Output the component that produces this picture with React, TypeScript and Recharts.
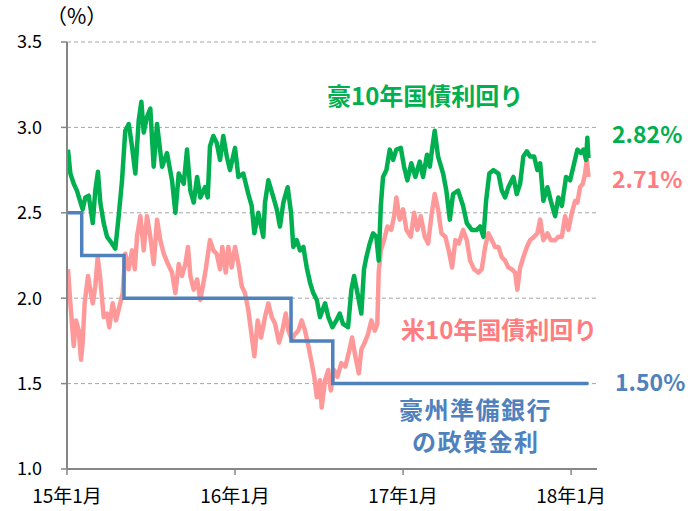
import React from "react";
import { LineChart, Line, XAxis, YAxis, CartesianGrid } from "recharts";

// months since Jan 2015
const auMonths = [0.07,0.24,0.48,0.71,0.93,1.12,1.31,1.55,1.84,2.02,2.21,2.38,2.62,2.86,3.21,3.45,3.69,3.93,4.16,4.41,4.64,4.88,5.12,5.31,5.48,5.71,5.95,6.19,6.43,6.79,7.14,7.5,7.74,7.98,8.34,8.57,8.81,9.05,9.29,9.52,9.86,10.05,10.21,10.45,10.69,10.93,11.16,11.41,11.64,12.0,12.24,12.59,12.95,13.19,13.38,13.66,14.02,14.14,14.38,14.74,14.98,15.21,15.45,15.76,16.0,16.16,16.41,16.64,16.88,17.12,17.36,17.59,17.84,18.07,18.43,18.66,18.95,19.24,19.48,19.71,20.07,20.31,20.5,20.79,21.02,21.21,21.38,21.62,21.86,22.09,22.26,22.41,22.57,22.81,23.05,23.29,23.52,23.84,24.07,24.31,24.59,24.88,25.19,25.43,25.71,25.91,26.07,26.26,26.5,26.86,27.09,27.34,27.57,27.93,28.29,28.55,28.91,29.26,29.5,29.74,29.93,30.16,30.45,30.81,31.05,31.29,31.52,31.88,32.12,32.36,32.59,32.84,33.07,33.36,33.59,33.79,34.02,34.31,34.55,34.86,35.09,35.34,35.64,35.93,36.16,36.45,36.69,36.88,37.07,37.16,37.24];
const auYield = [2.87,2.73,2.67,2.63,2.57,2.52,2.59,2.60,2.44,2.63,2.74,2.56,2.44,2.36,2.32,2.29,2.48,2.69,2.98,3.02,2.89,2.73,3.04,3.15,2.97,3.06,3.11,2.77,3.02,2.77,2.85,2.69,2.50,2.73,2.67,2.87,2.63,2.56,2.71,2.59,2.65,2.59,2.89,2.95,2.91,2.81,2.95,2.83,2.75,2.88,2.71,2.73,2.61,2.54,2.38,2.50,2.36,2.56,2.69,2.59,2.52,2.42,2.56,2.65,2.50,2.30,2.34,2.28,2.30,2.18,2.09,2.03,1.99,1.89,1.97,1.89,1.83,1.87,1.91,1.85,1.83,2.05,2.13,2.01,1.91,2.17,2.24,2.32,2.38,2.36,2.22,2.54,2.71,2.75,2.87,2.81,2.87,2.88,2.77,2.69,2.79,2.71,2.80,2.71,2.84,2.77,2.87,2.98,2.83,2.73,2.63,2.46,2.61,2.63,2.54,2.44,2.40,2.40,2.42,2.36,2.57,2.73,2.75,2.73,2.63,2.59,2.65,2.71,2.61,2.67,2.83,2.86,2.83,2.83,2.75,2.79,2.57,2.65,2.57,2.48,2.59,2.54,2.71,2.69,2.77,2.87,2.85,2.87,2.81,2.94,2.82];

const usMonths = [0.07,0.24,0.48,0.64,0.84,1.0,1.12,1.26,1.5,1.66,1.84,2.02,2.19,2.38,2.62,2.86,3.02,3.26,3.5,3.74,3.98,4.16,4.41,4.64,4.84,5.0,5.24,5.48,5.71,5.95,6.19,6.43,6.66,6.91,7.21,7.5,7.74,7.98,8.21,8.45,8.64,8.81,9.05,9.29,9.52,9.66,9.91,10.21,10.45,10.69,10.93,11.09,11.34,11.52,11.76,12.0,12.24,12.48,12.71,12.95,13.14,13.38,13.62,13.86,14.14,14.38,14.62,14.86,15.14,15.38,15.62,15.81,16.05,16.29,16.52,16.76,17.0,17.24,17.48,17.66,17.84,18.07,18.19,18.43,18.66,18.84,19.07,19.31,19.59,19.88,20.12,20.36,20.59,20.84,21.02,21.26,21.5,21.74,21.98,22.16,22.26,22.41,22.64,22.88,23.16,23.36,23.52,23.76,24.0,24.24,24.55,24.79,25.02,25.26,25.55,25.79,26.02,26.26,26.5,26.74,27.02,27.26,27.5,27.74,27.98,28.29,28.55,28.79,29.07,29.38,29.62,29.86,30.09,30.34,30.57,30.81,31.05,31.29,31.52,31.76,32.0,32.16,32.36,32.59,32.84,33.07,33.36,33.59,33.79,34.02,34.31,34.55,34.86,35.09,35.34,35.57,35.81,36.05,36.29,36.45,36.64,36.84,37.0,37.12,37.24];
const usYield = [2.17,1.97,1.72,1.87,1.81,1.64,1.74,1.97,2.13,2.05,1.97,2.07,2.24,2.11,1.89,1.91,1.83,1.97,1.87,1.95,2.03,2.26,2.17,2.28,2.17,2.36,2.48,2.28,2.48,2.36,2.20,2.46,2.34,2.26,2.20,2.15,2.03,2.20,2.13,2.20,2.30,2.13,2.05,2.11,1.99,2.05,2.17,2.34,2.28,2.26,2.17,2.30,2.15,2.30,2.18,2.30,2.20,2.07,2.03,1.93,1.81,1.66,1.87,1.77,1.89,1.97,1.89,1.85,1.74,1.81,1.91,1.81,1.76,1.79,1.81,1.87,1.81,1.72,1.62,1.54,1.42,1.52,1.36,1.52,1.58,1.46,1.58,1.54,1.62,1.60,1.68,1.77,1.66,1.56,1.70,1.74,1.79,1.87,1.81,1.85,2.15,2.28,2.34,2.42,2.40,2.48,2.59,2.46,2.52,2.40,2.36,2.50,2.40,2.48,2.36,2.32,2.48,2.61,2.52,2.38,2.36,2.28,2.18,2.34,2.32,2.40,2.34,2.22,2.17,2.15,2.17,2.30,2.38,2.34,2.30,2.30,2.24,2.22,2.18,2.17,2.15,2.05,2.18,2.24,2.30,2.34,2.36,2.38,2.46,2.34,2.38,2.34,2.34,2.36,2.36,2.48,2.40,2.50,2.57,2.56,2.65,2.67,2.73,2.81,2.71];

const rbaMonths = [0, 1.05, 4.07, 16.0, 18.98, 37.24];
const rbaRate = [2.5, 2.25, 2.0, 1.75, 1.5, 1.5];

const xTickValues = [0, 12, 24, 36];
const xTickLabels = ["15年1月", "16年1月", "17年1月", "18年1月"];
const yTickValues = [1.0, 1.5, 2.0, 2.5, 3.0, 3.5];

const auData = auMonths.map((m, i) => ({ m, v: auYield[i] }));
const usData = usMonths.map((m, i) => ({ m, v: usYield[i] }));
const rbaData = rbaMonths.map((m, i) => ({ m, v: rbaRate[i] }));

const GREEN = "#00b050";
const PINK = "#ff9999";
const PINK_TEXT = "#ff7c80";
const BLUE = "#4f81bd";
const FONT = "'Noto Sans CJK JP', 'Noto Sans', sans-serif";

const label = (text: string, left: number, top: number, size: number, color: string, weight = 700, extra: React.CSSProperties = {}) => (
  <div
    style={{
      position: "absolute",
      left,
      top,
      fontSize: size,
      lineHeight: `${size}px`,
      color,
      fontWeight: weight,
      fontFamily: FONT,
      whiteSpace: "nowrap",
      ...extra,
    }}
  >
    {text}
  </div>
);

export default function App() {
  return (
    <div style={{ position: "absolute", left: 0, top: 0, width: 697, height: 511, background: "#fff", fontFamily: FONT }}>
      <LineChart width={697} height={511} margin={{ top: 42, right: 100, bottom: 12, left: 0 }}>
        <CartesianGrid vertical={false} stroke="#a6a6a6" strokeDasharray="4 3" />
        <XAxis
          type="number"
          dataKey="m"
          domain={[0, 37.85]}
          ticks={xTickValues}
          tickFormatter={(v: number) => xTickLabels[xTickValues.indexOf(v)] ?? ""}
          height={30}
          tickSize={6}
          tickMargin={15}
          axisLine={{ stroke: "#868686", strokeWidth: 2 }}
          tickLine={{ stroke: "#868686", strokeWidth: 1.5 }}
          tick={{ fill: "#000", fontSize: 19, fontFamily: FONT }}
          allowDataOverflow
        />
        <YAxis
          type="number"
          domain={[1, 3.5]}
          ticks={yTickValues}
          tickFormatter={(v: number) => v.toFixed(1)}
          width={67}
          tickSize={6}
          tickMargin={19}
          axisLine={{ stroke: "#868686", strokeWidth: 2 }}
          tickLine={{ stroke: "#868686", strokeWidth: 1.5 }}
          tick={{ fill: "#000", fontSize: 18, fontFamily: FONT }}
          allowDataOverflow
        />
        <Line data={usData} dataKey="v" type="linear" stroke={PINK} strokeWidth={4.5} strokeLinejoin="round" dot={false} isAnimationActive={false} />
        <Line data={auData} dataKey="v" type="linear" stroke={GREEN} strokeWidth={4.5} strokeLinejoin="round" dot={false} isAnimationActive={false} />
        <Line data={rbaData} dataKey="v" type="stepAfter" stroke={BLUE} strokeWidth={3.5} dot={false} isAnimationActive={false} />
      </LineChart>
      {label("（%）", 46, 5, 21, "#000", 400)}
      {label("豪10年国債利回り", 327, 83, 24, GREEN)}
      {label("米10年国債利回り", 401, 317, 24, PINK_TEXT)}
      {label("豪州準備銀行", 399, 397, 24, BLUE, 700, { letterSpacing: 1.5 })}
      {label("の政策金利", 412, 429, 24, BLUE, 700, { letterSpacing: 1.5 })}
      {label("2.82%", 612, 122, 23, GREEN)}
      {label("2.71%", 612, 167, 23, PINK_TEXT)}
      {label("1.50%", 615, 370, 23, BLUE, 600)}
    </div>
  );
}
